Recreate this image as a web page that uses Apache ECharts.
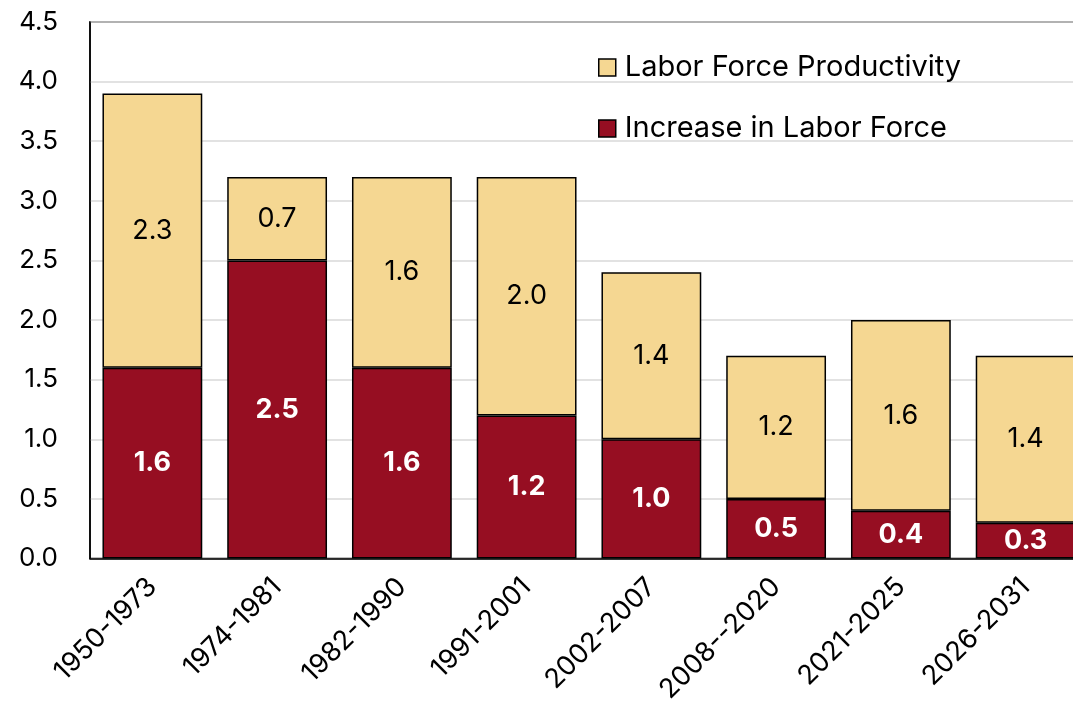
<!DOCTYPE html>
<html>
<head>
<meta charset="utf-8">
<script src="https://cdn.jsdelivr.net/npm/echarts@6/dist/echarts.min.js"></script>
<style>
  html, body { margin: 0; padding: 0; background: #fff; overflow: hidden; }
  /* chart is a bit wider than the window: the last bar is cut off at the right edge */
  #chart { width: 1088px; height: 706px; }
</style>
</head>
<body>
<div id="chart"></div>
<script>
// periods on the x axis
var periods = ['1950-1973', '1974-1981', '1982-1990', '1991-2001', '2002-2007', '2008--2020', '2021-2025', '2026-2031'];
// stacked values (percent per year)
var laborIncrease = [1.6, 2.5, 1.6, 1.2, 1.0, 0.5, 0.4, 0.3];
var productivity = [2.3, 0.7, 1.6, 2.0, 1.4, 1.2, 1.6, 1.4];

var RED = '#960E22';
var TAN = '#F5D792';
var FONT = 'Inter, "Noto Sans", "Liberation Sans", sans-serif';

var myChart = echarts.init(document.getElementById('chart'));

myChart.setOption({
    animation: false,
    textStyle: { fontFamily: FONT },
    grid: { left: 90, right: 0, top: 22, bottom: 147, containLabel: false, show: true, borderColor: '#000', borderWidth: 1.5 },
    legend: {
        orient: 'vertical',
        left: 593,
        top: 48,
        itemWidth: 17,
        itemHeight: 17,
        itemGap: 32,
        icon: 'rect',
        data: ['Labor Force Productivity', 'Increase in Labor Force'],
        textStyle: { fontSize: 29, color: '#000', fontFamily: FONT, padding: [0, 0, 0, 4] },
        itemStyle: { borderColor: '#000', borderWidth: 1.5 }
    },
    xAxis: {
        type: 'category',
        data: periods,
        axisLine: { lineStyle: { color: '#000', width: 1.5 } },
        axisTick: { show: false },
        axisLabel: { rotate: 45, fontSize: 27, color: '#000', margin: 24, interval: 0 }
    },
    yAxis: {
        type: 'value',
        min: 0,
        max: 4.5,
        interval: 0.5,
        axisLine: { show: true, lineStyle: { color: '#000', width: 1.5 } },
        axisTick: { show: false },
        axisLabel: {
            fontSize: 26, color: '#000', margin: 32,
            formatter: function (v) { return v.toFixed(1); }
        },
        splitLine: { lineStyle: { color: '#d9d9d9', width: 1.5 } }
    },
    series: [
        {
            name: 'Increase in Labor Force',
            type: 'bar',
            stack: 'total',
            barCategoryGap: '20%',
            data: laborIncrease,
            itemStyle: { color: RED, borderColor: '#000', borderWidth: 1.5 },
            label: {
                show: true, position: 'inside', color: '#fff', fontWeight: 'bold', fontSize: 27,
                formatter: function (p) { return p.value.toFixed(1); }
            }
        },
        {
            name: 'Labor Force Productivity',
            type: 'bar',
            stack: 'total',
            barCategoryGap: '20%',
            data: productivity,
            itemStyle: { color: TAN, borderColor: '#000', borderWidth: 1.5 },
            label: {
                show: true, position: 'inside', color: '#000', fontSize: 27,
                formatter: function (p) { return p.value.toFixed(1); }
            }
        }
    ]
});
</script>
</body>
</html>
